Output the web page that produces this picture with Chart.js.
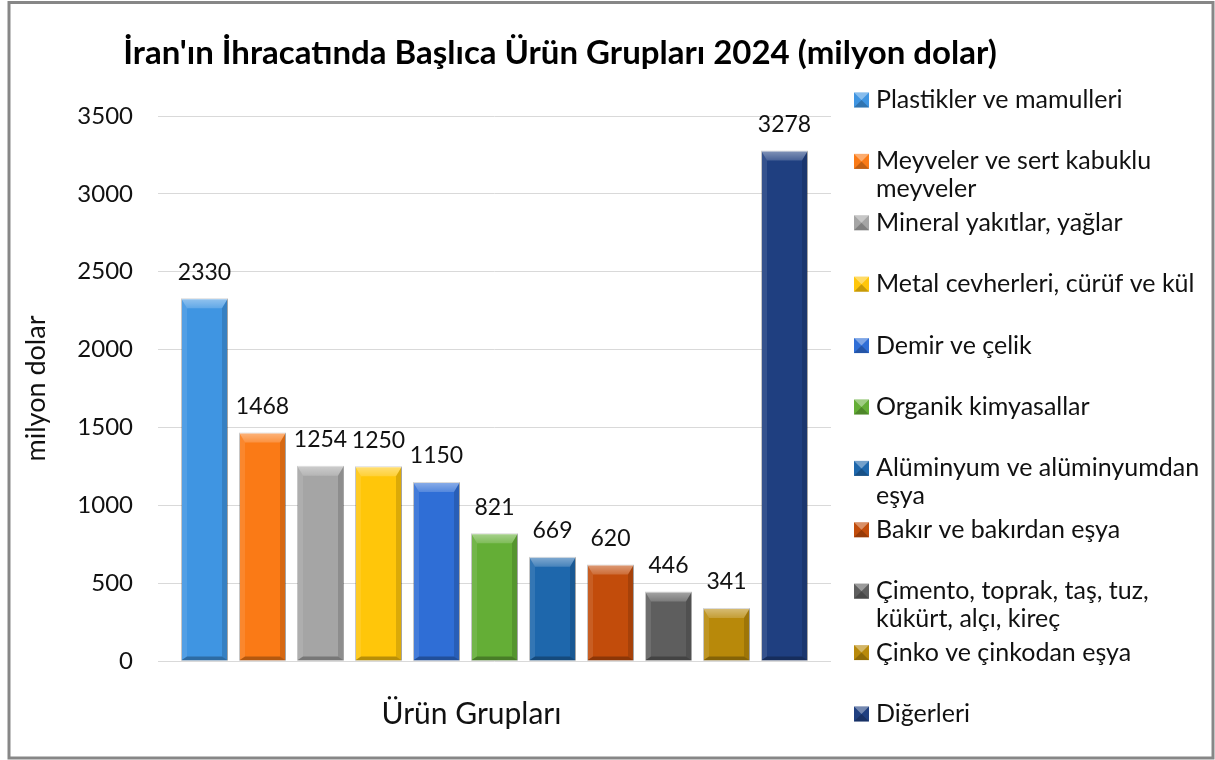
<!DOCTYPE html>
<html><head><meta charset="utf-8">
<script src="https://cdn.jsdelivr.net/npm/chart.js@4"></script>
<style>html,body{margin:0;padding:0;background:#fff;} canvas{display:block;}</style>
</head><body>
<canvas id="c" width="1215" height="760"></canvas>
<script>
const categories = ['Ürün Grupları'];
const seriesLabels = [
  'Plastikler ve mamulleri',
  'Meyveler ve sert kabuklu meyveler',
  'Mineral yakıtlar, yağlar',
  'Metal cevherleri, cürüf ve kül',
  'Demir ve çelik',
  'Organik kimyasallar',
  'Alüminyum ve alüminyumdan eşya',
  'Bakır ve bakırdan eşya',
  'Çimento, toprak, taş, tuz, kükürt, alçı, kireç',
  'Çinko ve çinkodan eşya',
  'Diğerleri'
];
const seriesValues = [2330, 1468, 1254, 1250, 1150, 821, 669, 620, 446, 341, 3278];
const seriesColors = ['#3F95E2', '#FA7A16', '#A5A5A5', '#FFC60A', '#2F6ED6', '#64AE36', '#1E67AC', '#C24C0B', '#5E5E5E', '#B8890A', '#1F3F80'];
const yTickValues = [0, 500, 1000, 1500, 2000, 2500, 3000, 3500];
const titleText = "İran'ın İhracatında Başlıca Ürün Grupları 2024 (milyon dolar)";
const yAxisTitle = 'milyon dolar';

const FONT = 'Lato, "Open Sans", sans-serif';
Chart.defaults.font.family = FONT;
Chart.defaults.color = '#111';

function poly(ctx, pts, fill) {
  ctx.beginPath();
  ctx.moveTo(pts[0][0], pts[0][1]);
  for (let i = 1; i < pts.length; i++) ctx.lineTo(pts[i][0], pts[i][1]);
  ctx.closePath();
  ctx.fillStyle = fill;
  ctx.fill();
}

const framePlugin = {
  id: 'frame',
  beforeDraw(chart) {
    const ctx = chart.ctx;
    ctx.save();
    ctx.fillStyle = '#fff';
    ctx.fillRect(0, 0, chart.width, chart.height);
    ctx.restore();
  },
  afterDraw(chart) {
    const ctx = chart.ctx;
    ctx.save();
    ctx.strokeStyle = '#878787';
    ctx.lineWidth = 3;
    ctx.strokeRect(9, 2.5, 1204, 755.5);
    ctx.restore();
  }
};

const bevelPlugin = {
  id: 'bevel',
  afterDatasetsDraw(chart) {
    const ctx = chart.ctx;
    ctx.save();
    chart.data.datasets.forEach((ds, i) => {
      const meta = chart.getDatasetMeta(i);
      meta.data.forEach(el => {
        const p = el.getProps(['x', 'y', 'base', 'width'], true);
        const x0 = p.x - p.width / 2, x1 = p.x + p.width / 2;
        const y0 = Math.min(p.y, p.base), y1 = Math.max(p.y, p.base);
        const h = y1 - y0, w = x1 - x0;
        const t = Math.min(10, h / 2), s = Math.min(6, w / 4), b = Math.min(4, h / 4);
        const g = ctx.createLinearGradient(0, y0, 0, y0 + t);
        g.addColorStop(0, 'rgba(255,255,255,0.45)');
        g.addColorStop(1, 'rgba(255,255,255,0.18)');
        poly(ctx, [[x0, y0], [x1, y0], [x1 - s, y0 + t], [x0 + s, y0 + t]], g);
        poly(ctx, [[x0, y0], [x0 + s, y0 + t], [x0 + s, y1 - b], [x0, y1]], 'rgba(255,255,255,0.10)');
        poly(ctx, [[x1, y0], [x1 - s, y0 + t], [x1 - s, y1 - b], [x1, y1]], 'rgba(0,0,0,0.14)');
        poly(ctx, [[x0, y1], [x0 + s, y1 - b], [x1 - s, y1 - b], [x1, y1]], 'rgba(0,0,0,0.28)');
      });
    });
    ctx.restore();
  }
};

const valueLabelPlugin = {
  id: 'valueLabels',
  afterDatasetsDraw(chart) {
    const ctx = chart.ctx;
    ctx.save();
    ctx.font = '23px ' + FONT;
    ctx.fillStyle = '#111';
    ctx.textAlign = 'center';
    ctx.textBaseline = 'middle';
    chart.data.datasets.forEach((ds, i) => {
      const meta = chart.getDatasetMeta(i);
      meta.data.forEach((el, j) => {
        const p = el.getProps(['x', 'y'], true);
        ctx.fillText(String(ds.data[j]), p.x, p.y - 26);
      });
    });
    ctx.restore();
  }
};

const legendPlugin = {
  id: 'sideLegend',
  afterDraw(chart) {
    const ctx = chart.ctx;
    ctx.save();
    ctx.font = '25px ' + FONT;
    ctx.textBaseline = 'middle';
    ctx.textAlign = 'left';
    const boxX = 854, box = 15, textX = 876, maxW = 336;
    const startY = 100, step = 61.4, lineH = 28;
    chart.data.datasets.forEach((ds, i) => {
      const cy = startY + i * step;
      const bx = boxX, by = cy - box / 2;
      ctx.fillStyle = ds.backgroundColor;
      ctx.fillRect(bx, by, box, box);
      poly(ctx, [[bx, by], [bx + box, by], [bx + box / 2, by + box / 2]], 'rgba(255,255,255,0.38)');
      poly(ctx, [[bx, by + box], [bx + box, by + box], [bx + box / 2, by + box / 2]], 'rgba(0,0,0,0.22)');
      const words = ds.label.split(' ');
      const lines = [];
      let cur = '';
      words.forEach(wd => {
        const test = cur ? cur + ' ' + wd : wd;
        if (ctx.measureText(test).width > maxW && cur) { lines.push(cur); cur = wd; }
        else cur = test;
      });
      if (cur) lines.push(cur);
      ctx.fillStyle = '#111';
      lines.forEach((ln, k) => ctx.fillText(ln, textX, cy + k * lineH));
    });
    ctx.restore();
  }
};

const datasets = seriesLabels.map((lab, i) => ({
  label: lab,
  data: [seriesValues[i]],
  backgroundColor: seriesColors[i],
  borderColor: 'rgba(0,0,0,0.25)',
  borderWidth: 1,
  categoryPercentage: 0.948,
  barPercentage: 0.81
}));

new Chart(document.getElementById('c'), {
  type: 'bar',
  data: { labels: categories, datasets },
  options: {
    responsive: false,
    animation: false,
    devicePixelRatio: 1,
    layout: { padding: { left: 0, right: 95, top: 0, bottom: 0 } },
    plugins: {
      legend: { display: false },
      tooltip: { enabled: false },
      title: {
        display: true,
        text: titleText,
        color: '#000',
        font: { size: 33, weight: 'bold', family: FONT },
        padding: { top: 33.2, bottom: 43.2 }
      }
    },
    scales: {
      x: {
        grid: { display: false },
        border: { display: false },
        ticks: { font: { size: 30 }, color: '#111', padding: 27, labelOffset: -23 },
        afterFit(s) { s.height = 99; }
      },
      y: {
        min: 0, max: 3500,
        afterBuildTicks(s) { s.ticks = yTickValues.map(v => ({ value: v })); },
        grid: { color: '#d9d9d9', drawTicks: false, lineWidth: 1 },
        border: { display: false },
        ticks: { font: { size: 24 }, color: '#111', padding: 25, callback: v => String(v) },
        title: { display: true, text: yAxisTitle, font: { size: 27 }, color: '#111', padding: { top: 20, bottom: 0 } },
        afterFit(s) { s.width = 158; }
      },
      yRight: {
        position: 'right',
        display: true,
        grid: { display: false },
        border: { display: false },
        ticks: { display: false },
        afterFit(s) { s.width = 289; }
      }
    }
  },
  plugins: [framePlugin, bevelPlugin, valueLabelPlugin, legendPlugin]
});
</script>
</body></html>
